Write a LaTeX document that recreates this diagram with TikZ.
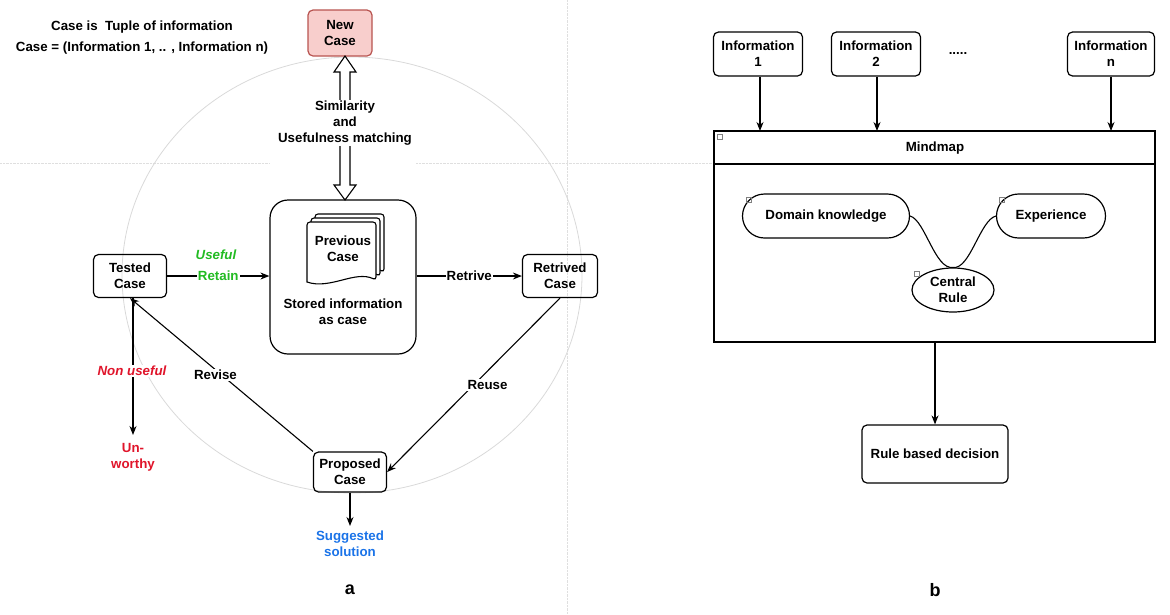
\documentclass[tikz,border=0pt]{standalone}
\usepackage{fontspec}
\setmainfont{Liberation Sans}
\usetikzlibrary{shapes.geometric,arrows.meta}
\definecolor{pinkf}{HTML}{F8CECC}
\definecolor{pinkd}{HTML}{B85450}
\definecolor{gr}{HTML}{22BB22}
\definecolor{rd}{HTML}{E0142A}
\definecolor{bl}{HTML}{1A73E8}
\begin{document}
\begin{tikzpicture}[x=1pt,y=-1pt,
  every node/.style={font=\fontsize{13.3}{16}\selectfont\bfseries, align=center, inner sep=1pt},
  box/.style={draw, line width=1.2pt, rounded corners=5pt, inner sep=0pt},
  arr/.style={-{Stealth[length=9pt,width=7pt]}, line width=1.1pt},
  lbl/.style={fill=white, inner sep=1pt}]
\useasboundingbox (0,0) rectangle (1170,614);
\draw[gray!25, densely dotted] (567,0) -- (567,614);
\draw[gray!25, densely dotted] (0,163) -- (270,163) (416,163) -- (714,163);
\draw[gray!30, line width=0.8pt] (352,275) ellipse [x radius=230, y radius=218];
% left text
\node (t1) at (142,27) {Case is\ \ Tuple of information};
\node (t2) at (142,48) {Case = (Information 1, .. , Information n)};
% nodes
\node[box, fill=pinkf, draw=pinkd, minimum width=64, minimum height=46] (new) at (340,33) {New\\Case};
\node[box, rounded corners=18pt, minimum width=146, minimum height=154] (store) at (343,277) {};
\node (stxt) at (343,312) {Stored information\\as case};
% document stack
\foreach \d in {8,4,0}{
 \draw[fill=white, line width=1.1pt, rounded corners=3pt] (307+\d,222-\d) -- (376+\d,222-\d) -- (376+\d,280-\d) [sharp corners] .. controls (355+\d,270-\d) and (330+\d,290-\d) .. (307+\d,282-\d) [rounded corners=3pt] -- cycle;}
\node (prev) at (343,249) {Previous\\Case};
\node[box, minimum width=73, minimum height=43] (tested) at (130,276) {Tested\\Case};
\node[box, minimum width=75, minimum height=43] (retr) at (560,276) {Retrived\\Case};
\node[box, minimum width=73, minimum height=40] (prop) at (350,472) {Proposed\\Case};
\coordinate (unw) at (133,435);
\node[text=rd] (un) at (133,457) {Un-\\worthy};
\coordinate (sug) at (350,526);
\node[text=bl] (sugt) at (350,544) {Suggested\\solution};
% hollow double arrow
\draw[line width=1.1pt, fill=white] (345,56) -- (356,72) -- (350,72) -- (350,185) -- (356,185) -- (345,200) -- (334,185) -- (340,185) -- (340,72) -- (334,72) -- cycle;
\node[lbl] (sim) at (345,123) {Similarity\\and\\Usefulness matching};
% connectors
\draw[arr] (tested.east) -- node[lbl, text=gr, pos=0.5] {Retain} (store.west |- tested.east);
\node[text=gr, font=\fontsize{13.3}{16}\selectfont\bfseries\itshape] (useful) at (216,255) {Useful};
\draw[arr] (store.east |- retr.west) -- node[lbl] {Retrive} (retr.west);
\draw[arr] (retr.south) -- node[lbl, pos=0.5, xshift=14] {Reuse} (prop.east);
\draw[arr] (prop.north west) -- node[lbl, pos=0.5, xshift=-6] {Revise} (tested.south);
\draw[arr] ([xshift=3]tested.south) -- (unw);
\node[lbl, text=rd, font=\fontsize{13.3}{16}\selectfont\bfseries\itshape] (nonu) at (132,371) {Non useful};
\draw[arr] (prop.south) -- (sug);
\node[font=\fontsize{18}{20}\selectfont\bfseries] (a) at (350,590) {a};
% right side
\node[box, minimum width=89, minimum height=44] (i1) at (758,54) {Information\\1};
\node[box, minimum width=89, minimum height=44] (i2) at (876,54) {Information\\2};
\node (dots) at (958,54) {.....};
\node[box, minimum width=87, minimum height=44] (in) at (1111,54) {Information\\n};
\draw[line width=1.2pt] (714,131) rectangle (1155,342);
\draw[line width=1.2pt] (714,164) -- (1155,164);
\node (mm) at (935,148) {Mindmap};
\draw[gray, line width=0.5pt] (717,134) rectangle (722,139);
\coordinate (mt1) at (760,131);
\coordinate (mt2) at (877,131);
\coordinate (mtn) at (1111,131);
\draw[arr] (i1.south) ++(2,0) -- (mt1);
\draw[arr] (i2.south) ++(1,0) -- (mt2);
\draw[arr] (in.south) -- (mtn);
\node[draw, line width=1.2pt, rounded corners=22pt, minimum width=167, minimum height=44] (dom) at (826,216) {Domain knowledge};
\node[draw, line width=1.2pt, rounded corners=22pt, minimum width=109, minimum height=44] (exp) at (1051,216) {Experience};
\node[draw, ellipse, line width=1.2pt, minimum width=82, minimum height=44, inner sep=0pt] (cr) at (953,290) {Central\\Rule};
\draw[line width=1.1pt] (dom.east) .. controls (925,220) and (935,270) .. (cr.north) .. controls (970,270) and (980,220) .. (exp.west);
\draw[gray, line width=0.5pt] (746,197) rectangle (751,202) (999,197) rectangle (1004,202) (914,271) rectangle (919,276);
\coordinate (mb) at (935,342);
\node[box, minimum width=146, minimum height=58] (rbd) at (935,454) {Rule based decision};
\draw[arr] (mb) -- (rbd.north);
\node[font=\fontsize{18}{20}\selectfont\bfseries] (b) at (935,590) {b};
\end{tikzpicture}
\end{document}
